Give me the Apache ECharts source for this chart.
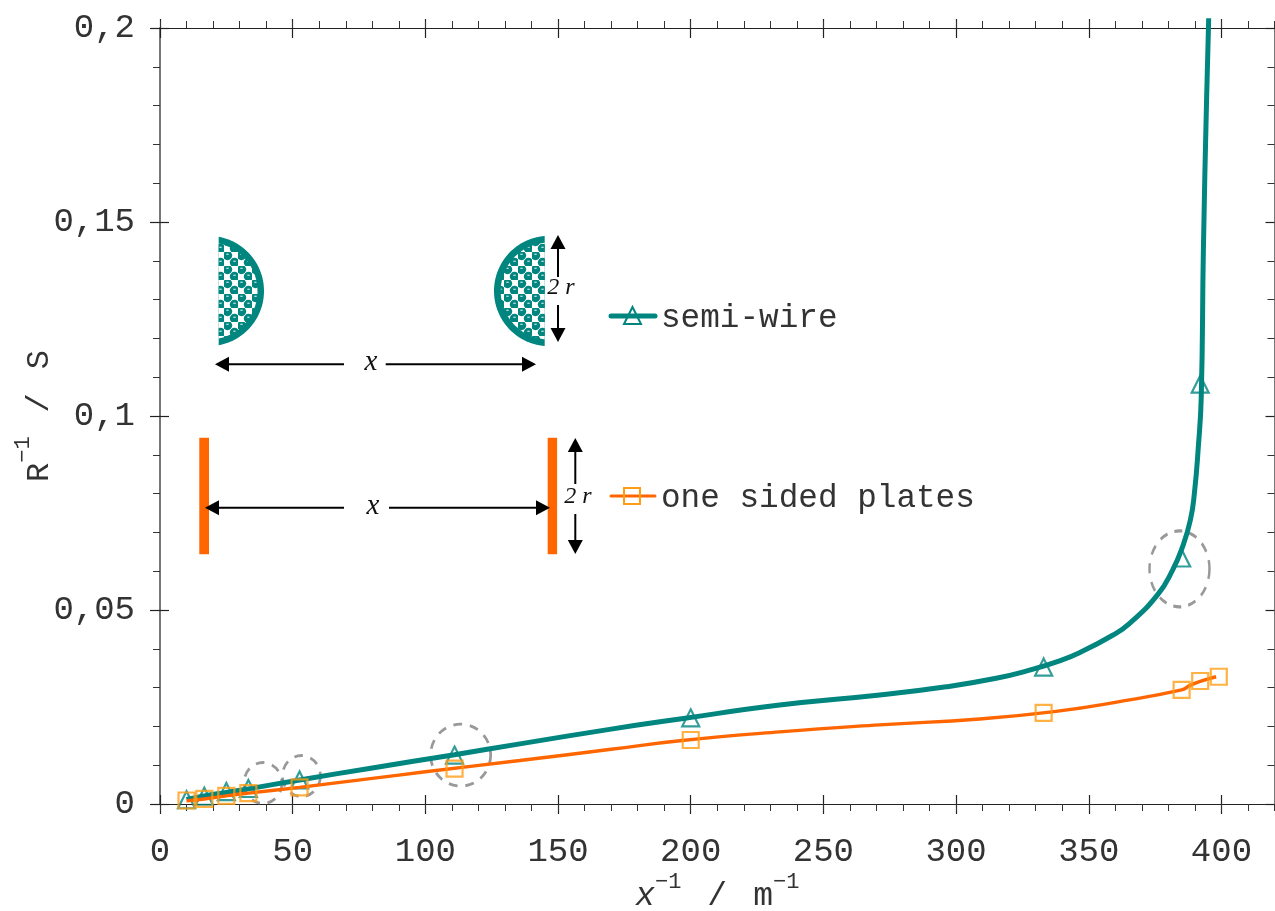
<!DOCTYPE html>
<html><head><meta charset="utf-8">
<style>html,body{margin:0;padding:0;background:#fff}#c{width:1275px;height:911px}</style>
<script src="https://cdn.jsdelivr.net/npm/echarts@6/dist/echarts.min.js"></script>
</head><body><div id="c"></div>
<script>
const xTicks = [0,50,100,150,200,250,300,350,400];
const yTickLabels = {0:'0',0.05:'0,05',0.1:'0,1',0.15:'0,15',0.2:'0,2'};

const wireLineX = [10,16.7,25,33.3,52.6,80,111,135.6,170,195.9,233.5,271.2,296.3,315.1,327.7,339,346.5,359,365.3,375.9,381.6,385.3,388.3,389.8,391.3,392.4,393.2,394.4,395.2];
const wireLineY = [.0012,.0021,.0030,.0039,.0062,.0093,.0127,.0155,.0193,.0219,.0255,.0281,.0302,.0324,.0345,.0369,.0390,.0435,.0465,.0539,.0603,.0662,.0732,.0800,.0921,.1050,.1428,.1814,.2025];
const plateLineX = [10,16.7,25,33.3,52.6,80,100,135.6,170,195.9,233.5,271.2,308.9,339,360,385,388,392,398];
const plateLineY = [.0008,.0013,.0021,.0028,.0043,.0066,.0083,.0112,.0141,.0163,.0186,.0204,.0219,.0240,.0262,.0294,.0305,.0316,.0328];

const wireMarkX = [10,16.7,25,33.3,52.6,111,200,333,385,392];
const wireMarkY = [.0011,.0020,.0032,.0040,.0062,.0126,.0222,.0353,.0634,.1082];
const plateMarkX = [10,16.7,25,33.3,52.6,111,200,333,385,392,399];
const plateMarkY = [.0009,.0013,.0021,.0028,.0043,.0091,.0165,.0235,.0294,.0317,.0328];

const ringX = [38.8,53.3,113.3,384.2];
const ringY = [.0054,.0072,.0126,.0606];

const TEAL='#00857f', ORANGE='#ff6600', MARK='#ff9d14', INK='#333';
const MONO='"Liberation Mono", monospace', SERIF='"Liberation Serif", serif';
const ringSizes=[[38,41],[38,41],[60,62],[60,76]];
const zip=(a,b)=>a.map((v,i)=>[v,b[i]]);

function xAx(pos,o){return Object.assign({type:'value',position:pos,min:0,max:420,interval:50,splitLine:{show:false},
  axisLine:{show:false,onZero:false},axisLabel:{show:false},axisTick:{show:false}},o);}
function yAx(pos,o){return Object.assign({type:'value',position:pos,min:0,max:0.2,interval:0.05,splitLine:{show:false},
  axisLine:{show:false,onZero:false},axisLabel:{show:false},axisTick:{show:false}},o);}
const spineX={show:true,onZero:false,lineStyle:{color:'#222',width:1.2}};
const spineY={show:true,onZero:false,lineStyle:{color:'#777',width:2}};
const majX=(inside,len)=>({show:true,inside,length:len,customValues:xTicks,lineStyle:{color:'#222',width:1.2}});
const majY=(inside,len)=>({show:true,inside,length:len,lineStyle:{color:'#222',width:1.2}});

const xAxes=[
  xAx('bottom',{axisLine:spineX,axisTick:majX(false,10),axisLabel:{show:true,customValues:xTicks,margin:31,color:INK,fontFamily:MONO,fontSize:34,hideOverlap:false},
    name:'{x|x}{s|\u22121}{n|/}{m|m}{s|\u22121}',nameLocation:'middle',nameMoveOverlap:false,nameGap:67,nameTextStyle:{rich:{
      x:{fontFamily:MONO,fontStyle:'italic',fontSize:33,color:INK,lineHeight:42,verticalAlign:'bottom'},
      s:{fontFamily:MONO,fontSize:22,color:INK,lineHeight:24,verticalAlign:'top'},
      n:{fontFamily:MONO,fontSize:33,color:INK,lineHeight:42,padding:[0,26,0,26],verticalAlign:'bottom'},
      m:{fontFamily:MONO,fontSize:33,color:INK,lineHeight:42,verticalAlign:'bottom'}}}}),
  xAx('bottom',{axisTick:majX(true,9)}),
  xAx('bottom',{interval:10,axisTick:{show:true,length:7,lineStyle:{color:'#333',width:1}}}),
  xAx('top',{axisLine:spineX,axisTick:majX(false,9)}),
  xAx('top',{axisTick:majX(true,10)}),
  xAx('top',{interval:10,axisTick:{show:true,length:7,lineStyle:{color:'#333',width:1}}})
];
const minorY={show:true,splitNumber:5,length:7,lineStyle:{color:'#333',width:1}};
const yAxes=[
  yAx('left',{axisLine:spineY,axisTick:majY(false,10),minorTick:minorY,axisLabel:{show:true,margin:25,color:INK,fontFamily:MONO,fontSize:34,
      formatter:v=>yTickLabels[+v.toFixed(2)]},
    name:'{r|R}{s|\u22121}{n|/}{r|S}',nameLocation:'middle',nameMoveOverlap:false,nameGap:104,nameTextStyle:{rich:{
      r:{fontFamily:MONO,fontSize:32,color:INK,lineHeight:44,verticalAlign:'bottom'},
      s:{fontFamily:MONO,fontSize:22,color:INK,lineHeight:24,verticalAlign:'top'},
      n:{fontFamily:MONO,fontSize:32,color:INK,lineHeight:44,padding:[0,24,0,24],verticalAlign:'bottom'}}}}),
  yAx('left',{axisTick:majY(true,9)}),
  yAx('right',{axisLine:spineY,axisTick:majY(true,9),minorTick:minorY})
];

// Hatched fill of the semi-wire cross-sections
const tile=document.createElement('canvas');tile.width=14;tile.height=14;
(function(){const g=tile.getContext('2d');g.fillStyle='#fff';g.fillRect(0,0,14,14);
  [[3.5,3.5],[10.5,10.5]].forEach(([a,b])=>{
    g.fillStyle=TEAL;g.beginPath();g.arc(a,b,4.7,0,Math.PI*2);g.fill();
    g.fillStyle='#d8efee';g.fillRect(a-1.2,b-1.8,2.4,1.1);});})();

// circular cap: part of the circle (cx,cy,R) on one side of the vertical chord at xc
const cap=(cx,cy,R,xc,side)=>{const h=Math.sqrt(R*R-(xc-cx)*(xc-cx)),a0=Math.asin(h/R),pts=[];
  const n=60;for(let i=0;i<=n;i++){const a=-a0+2*a0*i/n;
    pts.push([side>0?cx+R*Math.cos(a):cx-R*Math.cos(a),cy+R*Math.sin(a)]);}
  return pts;};
const arrow=(x1,y1,x2,y2)=>{ // head at (x2,y2)
  const dx=Math.sign(x2-x1),dy=Math.sign(y2-y1),L=14,W=7.5;
  return [{type:'line',shape:{x1,y1,x2:x2-dx*L,y2:y2-dy*L},style:{stroke:'#000',lineWidth:2}},
   {type:'polygon',shape:{points:[[x2,y2],[x2-dx*L-dy*W,y2-dy*L-dx*W],[x2-dx*L+dy*W,y2-dy*L+dx*W]]},style:{fill:'#000'}}];
};
const label=(text,x,y,size)=>({type:'text',x,y,style:{text,font:'italic '+size+'px '+SERIF,fill:'#111',textAlign:'center',textVerticalAlign:'middle'}});
const legendText=(text,x,y)=>({type:'text',x,y,style:{text,font:'32.7px '+MONO,fill:INK,textAlign:'left',textVerticalAlign:'middle'}});
const g=[
 {type:'polygon',shape:{points:cap(209,291,55,218.7,1)},style:{fill:TEAL}},
 {type:'polygon',shape:{points:cap(209,291,48.5,218.7,1)},style:{fill:{image:tile,repeat:'repeat'}}},
 {type:'polygon',shape:{points:cap(549.2,291,55.2,544.7,-1)},style:{fill:TEAL}},
 {type:'polygon',shape:{points:cap(549.2,291,48.5,544.7,-1)},style:{fill:{image:tile,repeat:'repeat'}}},
 {type:'rect',shape:{x:199.3,y:437.7,width:9.7,height:116.6},style:{fill:ORANGE}},
 {type:'rect',shape:{x:547.7,y:437.7,width:9.4,height:116.6},style:{fill:ORANGE}},
 ...arrow(344,364.3,215,364.3),...arrow(385.7,364.3,536,364.3),
 ...arrow(558,277,558,235),...arrow(558,305,558,342),
 ...arrow(344,507.7,205,507.7),...arrow(389,507.7,550,507.7),
 ...arrow(575.3,484,575.3,438),...arrow(575.3,514,575.3,554),
 label('x',371,362,29),label('x',373,506,29),label('2 r',561,288,24),label('2 r',578,497,24),
 {type:'line',shape:{x1:611,y1:316,x2:655,y2:316},style:{stroke:TEAL,lineWidth:5,lineCap:'round'}},
 {type:'polygon',shape:{points:[[632.5,307],[624,324],[641,324]]},style:{fill:'none',stroke:TEAL,lineWidth:2}},
 {type:'line',shape:{x1:611,y1:496,x2:655,y2:496},style:{stroke:ORANGE,lineWidth:3,lineCap:'round'}},
 {type:'rect',shape:{x:624,y:488,width:16,height:16},style:{fill:'none',stroke:MARK,lineWidth:2}},
 legendText('semi-wire',661,318),legendText('one sided plates',661,498)
];

const chart=echarts.init(document.getElementById('c'),null,{renderer:'canvas'});
chart.setOption({
  animation:false,backgroundColor:'#fff',
  grid:{left:160,right:0.5,top:28,bottom:107,containLabel:false,outerBoundsMode:'none'},
  xAxis:xAxes,yAxis:yAxes,
  graphic:g,
  series:[
    {name:'rings',type:'scatter',z:2,clip:false,symbol:'circle',
     data:zip(ringX,ringY).map((p,i)=>({value:p,symbolSize:ringSizes[i]})),
     itemStyle:{color:'rgba(0,0,0,0)',borderColor:'#7f7f7f',borderWidth:2.8,borderType:[9,8]},silent:true},
    {name:'semi-wire markers',type:'scatter',z:3,clip:false,symbol:'triangle',symbolSize:[17,17],data:zip(wireMarkX,wireMarkY),
     itemStyle:{color:'rgba(0,0,0,0)',borderColor:TEAL,borderWidth:2.2}},
    {name:'semi-wire',type:'line',z:4,clip:false,smooth:0.5,showSymbol:false,data:zip(wireLineX,wireLineY),lineStyle:{color:TEAL,width:5}},
    {name:'one sided plates',type:'line',z:5,clip:false,smooth:0.5,showSymbol:false,data:zip(plateLineX,plateLineY),lineStyle:{color:ORANGE,width:3.4}},
    {name:'one sided plates markers',type:'scatter',z:6,clip:false,symbol:'rect',symbolSize:[16,16],data:zip(plateMarkX,plateMarkY),
     itemStyle:{color:'rgba(0,0,0,0)',borderColor:MARK,borderWidth:2.2}}
  ]
});
</script></body></html>
